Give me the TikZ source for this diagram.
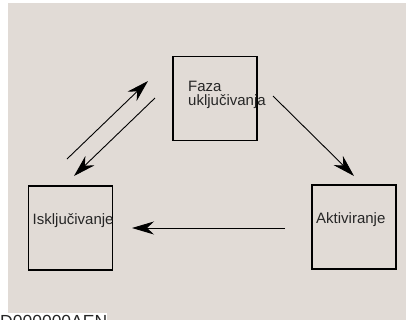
\documentclass[tikz,border=0pt]{standalone}
\usepackage{fontspec}
\setmainfont{Liberation Sans}
\usetikzlibrary{arrows.meta}
\definecolor{bgbeige}{HTML}{E1DBD6}
\tikzset{
  statebox/.style={draw=black, line width=1.1bp, minimum width=84bp, minimum height=84bp, inner sep=0pt},
  lbl/.style={inner sep=0pt, font=\fontsize{15bp}{13.3bp}\selectfont, text=black!85},
  flow/.style={line width=0.9bp, -{Stealth[length=22bp,width=13bp,inset=7bp]}}
}
\begin{document}
\begin{tikzpicture}[x=1bp,y=-1bp]
\useasboundingbox (0,0) rectangle (407,320);
\fill[bgbeige] (8,3) rectangle (406,320);
% boxes
\node[statebox] (faza) at (215,98.5) {};
\node[statebox] (iskl) at (70.5,228) {};
\node[statebox] (akt) at (354,227) {};
% labels
\node[lbl, anchor=base west] (fazaT1) at (188,91.5) {Faza};
\node[lbl, anchor=base west] (fazaT2) at (188,105.5) {uključivanja};
\node[lbl, anchor=base west] (isklT) at (32.5,224) {Isključivanje};
\node[lbl, anchor=base west] (aktT) at (316,223) {Aktiviranje};
% arrow end points
\coordinate (a1s) at (67,159);
\coordinate (a1e) at (148,81);
\coordinate (a2s) at (155,98);
\coordinate (a2e) at (74,176);
\coordinate (a3s) at (273,96);
\coordinate (a3e) at (354,176);
\coordinate (a4s) at (285,228);
\coordinate (a4e) at (132,228);
\draw[flow] (a1s) -- (a1e);
\draw[flow] (a2s) -- (a2e);
\draw[flow] (a3s) -- (a3e);
\draw[flow] (a4s) -- (a4e);
% code
\node[lbl, font=\fontsize{17.5bp}{18bp}\selectfont, fill=white, anchor=north west, inner xsep=0pt, inner ysep=2bp] (code) at (0,313) {D000000AEN};
\end{tikzpicture}
\end{document}
